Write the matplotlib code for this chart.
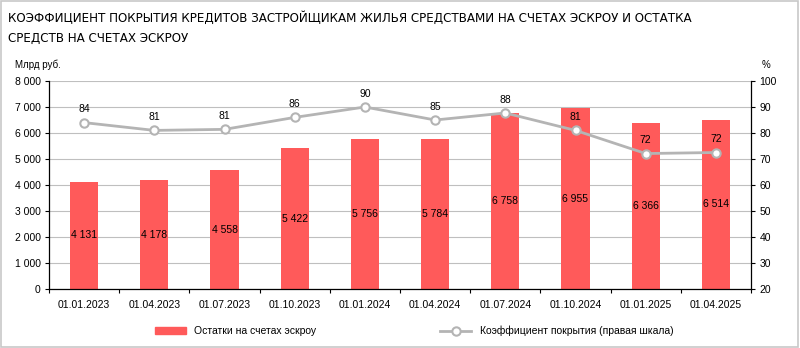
import numpy as np
import matplotlib.pyplot as plt
from matplotlib.patches import Rectangle
from matplotlib.lines import Line2D

dates = ['01.01.2023', '01.04.2023', '01.07.2023', '01.10.2023', '01.01.2024',
         '01.04.2024', '01.07.2024', '01.10.2024', '01.01.2025', '01.04.2025']
escrow = [4131, 4178, 4558, 5422, 5756, 5784, 6758, 6955, 6366, 6514]
coverage = [84, 81, 81, 86, 90, 85, 88, 81, 72, 72]
coverage_exact = [84, 81, 81.4, 86, 90, 85, 87.7, 81, 72.1, 72.5]

plt.rcParams['font.family'] = ['Liberation Sans', 'DejaVu Sans']

bar_color = '#FF5A5A'
line_color = '#B4B4B4'

def fmt(v):
    return f'{v:,.0f}'.replace(',', '\u00a0')

fig = plt.figure(figsize=(8, 3.48), dpi=100)
ax = fig.add_axes([49 / 800, 1 - 289 / 348, 702 / 800, 208 / 348])
ax2 = ax.twinx()

x = np.arange(len(dates))
ax.bar(x, escrow, width=0.4, color=bar_color, zorder=2)
for xi, v in zip(x, escrow):
    ax.text(xi, v / 2, fmt(v), ha='center', va='center', fontsize=7.5, color='black', zorder=5)

ax.set_xlim(-0.5, len(dates) - 0.5)
ax.set_ylim(0, 8000)
ax.set_yticks(range(0, 8001, 1000))
ax.set_yticklabels([fmt(v) for v in range(0, 8001, 1000)], fontsize=7.5)
ax.yaxis.grid(True, color='#BFBFBF', linewidth=0.8, zorder=0)
ax.set_axisbelow(True)
ax.set_xticks(x)
ax.set_xticklabels(dates, fontsize=7.5)
ax.set_xticks(np.arange(-0.5, len(dates), 1), minor=True)
ax.tick_params(axis='x', which='major', length=0, pad=8)
ax.tick_params(axis='x', which='minor', length=3, width=0.8)
ax.tick_params(axis='y', length=3, width=0.8, pad=3)
ax.spines['top'].set_visible(False)
ax.spines['right'].set_visible(False)
for s in ['left', 'bottom']:
    ax.spines[s].set_linewidth(0.9)

ax2.plot(x, coverage_exact, color=line_color, linewidth=2, marker='o', markersize=6,
         markerfacecolor='white', markeredgecolor=line_color, markeredgewidth=1.5, zorder=4)
for xi, v, ve in zip(x, coverage, coverage_exact):
    ax2.text(xi, ve + 3.2, str(v), ha='center', va='bottom', fontsize=7.5, color='black')
ax2.set_ylim(20, 100)
ax2.set_yticks(range(20, 101, 10))
ax2.tick_params(axis='y', labelsize=7.5, length=3, width=0.8, pad=3)
for s in ['top', 'left', 'bottom']:
    ax2.spines[s].set_visible(False)
ax2.spines['right'].set_linewidth(0.9)

fig.text(15 / 800, 1 - 65 / 348, 'Млрд руб.', fontsize=7, va='center', ha='left')
fig.text(766 / 800, 1 - 65 / 348, '%', fontsize=7, va='center', ha='center')

fig.text(8 / 800, 1 - 11 / 348,
         'КОЭФФИЦИЕНТ ПОКРЫТИЯ КРЕДИТОВ ЗАСТРОЙЩИКАМ ЖИЛЬЯ СРЕДСТВАМИ НА СЧЕТАХ ЭСКРОУ И ОСТАТКА\nСРЕДСТВ НА СЧЕТАХ ЭСКРОУ',
         fontsize=9.5, va='top', ha='left', family=['DejaVu Sans'], fontstretch='condensed',
         linespacing=1.75)

handles = [Rectangle((0, 0), 1, 1, color=bar_color),
           Line2D([0], [0], color=line_color, linewidth=2, marker='o', markersize=6,
                  markerfacecolor='white', markeredgecolor=line_color, markeredgewidth=1.5)]
fig.legend(handles, ['Остатки на счетах эскроу', 'Коэффициент покрытия (правая шкала)'],
           loc='center', bbox_to_anchor=(0.5175, 1 - 331 / 348), ncol=2, frameon=False,
           fontsize=7.5, columnspacing=11.9, handlelength=3, handleheight=0.6)

fig.add_artist(Rectangle((0.001, 0.002), 0.997, 0.995, transform=fig.transFigure,
                         fill=False, edgecolor='#C8C8C8', linewidth=1.2))

fig.savefig('out.png', dpi=100)
